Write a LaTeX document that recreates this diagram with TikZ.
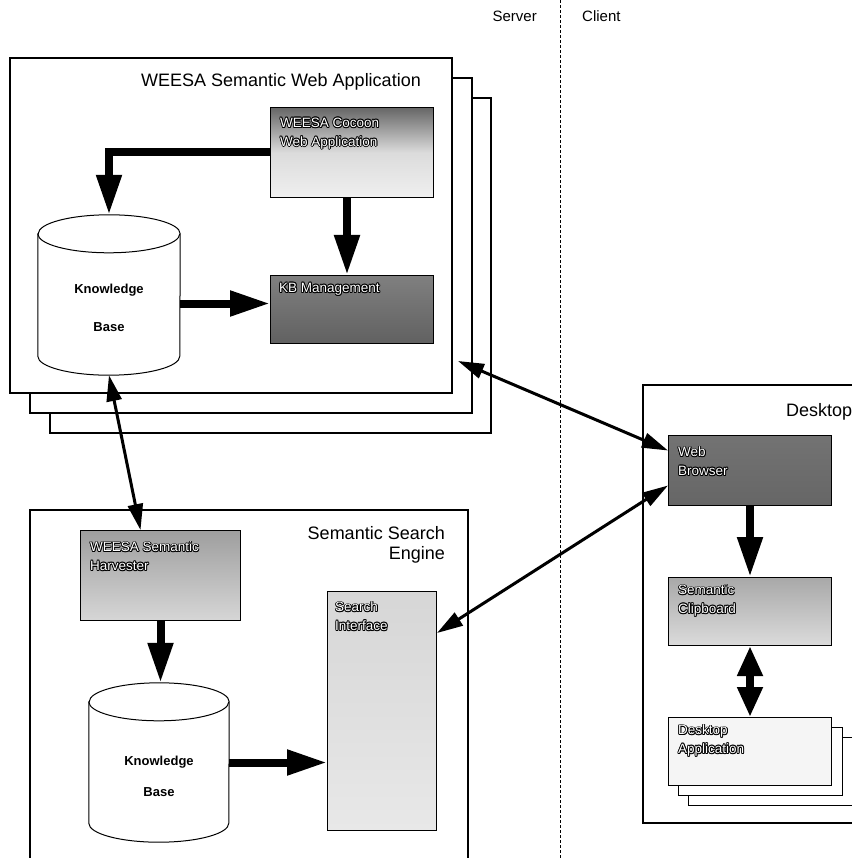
\documentclass[tikz,border=0pt]{standalone}
\usepackage{fontspec}
\setmainfont{Liberation Sans}
\usepackage[copies]{contour}
\contourlength{0.9pt}
\contournumber{8}
\usetikzlibrary{arrows.meta,calc}

% database cylinder drawn around a (named) rectangular node
\newcommand\drawdb[3]{%
  \draw[line width=1pt,fill=white]
    ([yshift=-#3]#1.north west) -- ([yshift=#3]#1.south west)
    arc[start angle=180,end angle=360,x radius=#2,y radius=#3]
    -- ([yshift=-#3]#1.north east)
    arc[start angle=0,end angle=180,x radius=#2,y radius=#3] -- cycle;
  \draw[line width=1pt] ([yshift=-#3]#1.north west)
    arc[start angle=180,end angle=360,x radius=#2,y radius=#3];
}
\newcommand\ol[1]{\contour{black}{#1}}

\begin{document}
\begin{tikzpicture}[x=1pt,y=-1pt,
  frame/.style={draw=black,line width=1.1pt,fill=white},
  comp/.style={draw=black,line width=1pt,anchor=north west,inner sep=0pt},
  lbl/.style={anchor=north west,align=left,text=white,inner sep=0pt,
    font=\fontsize{13.5}{18.5}\selectfont},
  title/.style={inner sep=0pt,font=\fontsize{18}{21}\selectfont},
  side/.style={inner sep=0pt,font=\fontsize{15}{18}\selectfont},
  kbtext/.style={inner sep=0pt,font=\bfseries\fontsize{13}{15}\selectfont},
  dbnode/.style={inner sep=0pt,draw=none},
  bigarrow/.style={line width=8pt,-{Triangle[length=40pt,width=24pt]}},
  dblbig/.style={line width=8pt,{Triangle[length=30pt,width=24pt]}-{Triangle[length=30pt,width=24pt]}},
  link/.style={line width=3pt,{Triangle[length=26pt,width=15pt]}-{Triangle[length=26pt,width=15pt]}},
]
\useasboundingbox (0,0) rectangle (851,858);

% server / client divider
\draw[line width=0.9pt,dash pattern=on 3pt off 2pt] (560,0) -- (560,858);
\node[side,anchor=base east] (srv) at (537,22) {Server};
\node[side,anchor=base west] (cli) at (582,22) {Client};

% ---------- WEESA semantic web application (stacked instances) ----------
\draw[frame] (50,98) rectangle (491,433);
\draw[frame] (30,78) rectangle (472,413);
\draw[frame] (10,58) rectangle (452,393);
\node[title,anchor=base east] (weesaT) at (421,87) {WEESA Semantic Web Application};

\node[comp,minimum width=163pt,minimum height=90pt,
  top color=black!60,bottom color=black!6,middle color=black!14] (cocoon) at (270,107) {};
\node[lbl] (cocoonT) at ([shift={(10pt,-11pt)}]cocoon.north west) {\ol{WEESA Cocoon}\\\ol{Web Application}};

\node[comp,minimum width=163pt,minimum height=68pt,
  top color=black!50,bottom color=black!62] (kbm) at (270,275) {};
\node[lbl] (kbmT) at ([shift={(9pt,-8pt)}]kbm.north west) {\ol{KB Management}};

\node[dbnode,minimum width=142pt,minimum height=160pt] (kb1) at (109,295) {};
\drawdb{kb1}{71pt}{19pt}
\node[kbtext] (kb1a) at (109,290) {Knowledge};
\node[kbtext] (kb1b) at (109,327) {Base};

\draw[bigarrow] (cocoon.west) -| (kb1.north);
\draw[bigarrow] ([xshift=-5pt]cocoon.south) -- ([xshift=-5pt]kbm.north);
\draw[bigarrow] ([yshift=6pt]kbm.west -| kb1.east) -- ([yshift=6pt]kbm.west);

% ---------- Semantic search engine ----------
\draw[frame] (30,870) -- (30,510) -- (468,510) -- (468,870);
\node[title,anchor=base east] (sseT1) at (445,539) {Semantic Search};
\node[title,anchor=base east] (sseT2) at (445,559) {Engine};

\node[comp,minimum width=160pt,minimum height=90pt,
  top color=black!38,bottom color=black!16] (harv) at (80,530) {};
\node[lbl] (harvT) at ([shift={(10pt,-12pt)}]harv.north west) {\ol{WEESA Semantic}\\\ol{Harvester}};

\node[comp,minimum width=109pt,minimum height=239pt,
  top color=black!16,bottom color=black!9] (si) at (327,591) {};
\node[lbl] (siT) at ([shift={(8pt,-11pt)}]si.north west) {\ol{Search}\\\ol{Interface}};

\node[dbnode,minimum width=140pt,minimum height=159pt] (kb2) at (159,762.5) {};
\drawdb{kb2}{70pt}{19pt}
\node[kbtext] (kb2a) at (159,762) {Knowledge};
\node[kbtext] (kb2b) at (159,792) {Base};

\draw[bigarrow] (harv.south) -- (harv.south |- kb2.north);
\draw[bigarrow] (kb2.east) -- (kb2.east -| si.west);

% ---------- Desktop ----------
\draw[frame] (643,385) rectangle (900,823);
\node[title,anchor=base west] (deskT) at (786,416) {Desktop};

\node[comp,minimum width=163pt,minimum height=70pt,
  top color=black!55,bottom color=black!60] (wb) at (668,435) {};
\node[lbl] (wbT) at ([shift={(10pt,-12pt)}]wb.north west) {\ol{Web}\\\ol{Browser}};

\node[comp,minimum width=163pt,minimum height=68pt,
  top color=black!34,bottom color=black!14] (clip) at (668,577) {};
\node[lbl] (clipT) at ([shift={(10pt,-8pt)}]clip.north west) {\ol{Semantic}\\\ol{Clipboard}};

\node[comp,minimum width=165pt,minimum height=68pt,fill=white] (dapp3) at (688,737) {};
\node[comp,minimum width=164pt,minimum height=68pt,fill=white] (dapp2) at (678,727) {};
\node[comp,minimum width=163pt,minimum height=68pt,fill=black!4] (dapp) at (668,717) {};
\node[lbl] (dappT) at ([shift={(10pt,-8pt)}]dapp.north west) {\ol{Desktop}\\\ol{Application}};

\draw[bigarrow] (wb.south) -- (clip.north);
\draw[dblbig] (clip.south) -- (dapp.north);

% ---------- links between server and client ----------
\coordinate (wsaEnd) at (458,361);
\draw[link] (kb1.south) -- ([xshift=-20pt]harv.north);
\draw[link] (wsaEnd) -- ([yshift=20pt]wb.west);
\draw[link] ([yshift=-15pt]wb.west) -- ([yshift=-42pt]si.north east);
\end{tikzpicture}
\end{document}
